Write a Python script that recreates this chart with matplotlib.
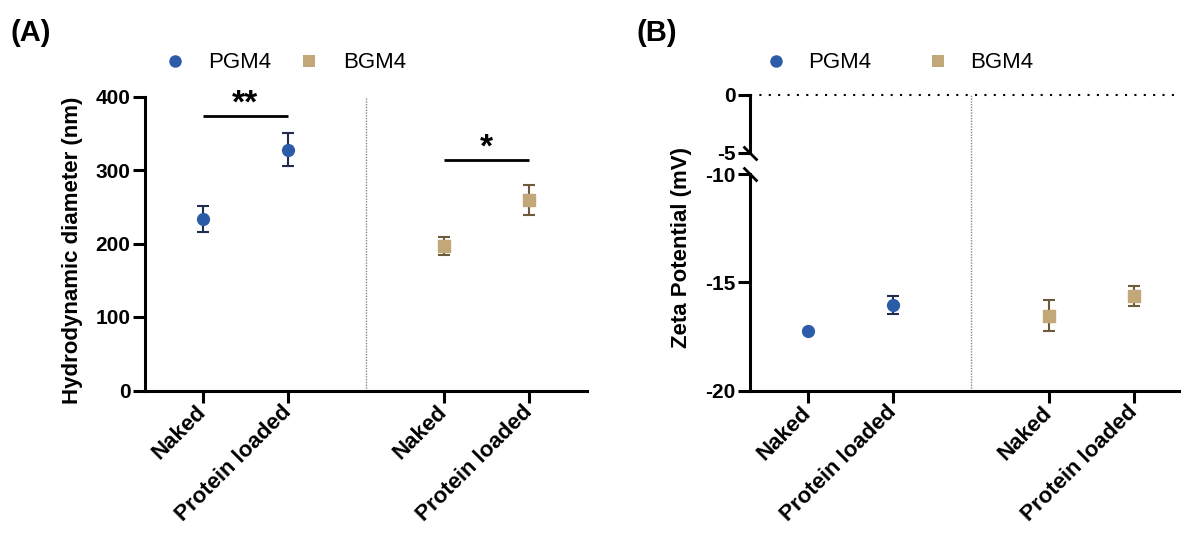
import matplotlib
matplotlib.use("Agg")
import matplotlib.pyplot as plt
from matplotlib.lines import Line2D

plt.rcParams["font.family"] = ["Liberation Sans", "DejaVu Sans"]
plt.rcParams["font.weight"] = "bold"
plt.rcParams["axes.labelweight"] = "bold"
plt.rcParams["axes.unicode_minus"] = False

# ---- datos ----
categorias = ["Naked", "Protein loaded"]
series = ["PGM4", "BGM4"]

pgm4_diam = [233, 327.5]
pgm4_diam_err = [17.5, 22.5]
bgm4_diam = [197, 259]
bgm4_diam_err = [12, 20]

pgm4_zeta = [-17.24, -16.06]
pgm4_zeta_err = [0.0, 0.41]   # la primera barra queda oculta bajo el marcador
bgm4_zeta = [-16.54, -15.63]
bgm4_zeta_err = [0.71, 0.45]

# barras de significancia (texto, altura) para el panel A
signif_diam = [("**", 374), ("*", 314)]

ticks_diam = [0, 100, 200, 300, 400]
ticks_zeta_alto = [-5, 0]
ticks_zeta_bajo = [-20, -15, -10]

# ---- estilo ----
AZUL = "#2C5BA8"
AZUL_ERR = "#1F2D4F"
BEIGE = "#C2A878"
BEIGE_ERR = "#6B5B3A"
W, H = 1181, 533
SEP = 1.835          # distancia entre grupos
XLIM = (-0.68, 4.52)
LW = 2.2

x_pgm4 = [0, 1]
x_bgm4 = [SEP + 1, SEP + 2]
x_todos = x_pgm4 + x_bgm4
x_div = (x_pgm4[-1] + x_bgm4[0]) / 2


def caja(x0, y_top, x1, y_bot):
    return [x0 / W, 1 - y_bot / H, (x1 - x0) / W, (y_bot - y_top) / H]


def estilo(ax):
    for s in ["top", "right"]:
        ax.spines[s].set_visible(False)
    for s in ["left", "bottom"]:
        ax.spines[s].set_linewidth(LW)
    ax.tick_params(width=LW, length=8.5, labelsize=15)
    ax.tick_params(axis="y", pad=2)
    ax.tick_params(axis="x", pad=5, labelsize=16)
    ax.set_xlim(*XLIM)


def etiquetas_x(ax):
    ax.set_xticks(x_todos)
    ax.set_xticklabels(categorias * 2, rotation=45, ha="right", va="center",
                       rotation_mode="anchor")


def puntos(ax, x, y, err, color, ecolor, marker, ms):
    ax.errorbar(x, y, yerr=err, fmt=marker, color=color, ms=ms, mec=color,
                ecolor=ecolor, elinewidth=1.5, capsize=4.6, capthick=1.5, zorder=3)


fig = plt.figure(figsize=(W / 100, H / 100), dpi=100)

# ---------------- Panel A ----------------
axA = fig.add_axes(caja(145, 96.5, 587, 390.5))
estilo(axA)
axA.set_ylim(0, 400)
axA.set_yticks(ticks_diam)
etiquetas_x(axA)
puntos(axA, x_pgm4, pgm4_diam, pgm4_diam_err, AZUL, AZUL_ERR, "o", 8.5)
puntos(axA, x_bgm4, bgm4_diam, bgm4_diam_err, BEIGE, BEIGE_ERR, "s", 8.5)
axA.axvline(x_div, color="#888888", lw=1, ls=(0, (1, 1)), zorder=1)

for (texto, y), xs in zip(signif_diam, [x_pgm4, x_bgm4]):
    axA.plot(xs, [y, y], color="k", lw=2, solid_capstyle="butt")
    axA.annotate(texto, xy=(sum(xs) / 2, y), xytext=(0, 2), textcoords="offset points",
                 ha="center", va="baseline", fontsize=24, fontweight="bold")

fig.text(73 / W, 1 - 250 / H, "Hydrodynamic diameter (nm)", rotation=90,
         ha="center", va="center", fontsize=16, fontweight="bold")
fig.text(11 / W, 1 - 33 / H, "(A)", ha="left", va="center", fontsize=21, fontweight="bold")

# ---------------- Panel B (eje y cortado) ----------------
axB_alto = fig.add_axes(caja(750, 95, 1192, 153))
axB = fig.add_axes(caja(750, 174, 1192, 390.7))
estilo(axB_alto)
estilo(axB)
axB_alto.spines["bottom"].set_visible(False)
axB_alto.set_xticks([])
axB_alto.set_ylim(-5, 0)
axB_alto.set_yticks(ticks_zeta_alto)
axB.set_ylim(-20, -10)
axB.set_yticks(ticks_zeta_bajo)
etiquetas_x(axB)

puntos(axB, x_pgm4, pgm4_zeta, pgm4_zeta_err, AZUL, AZUL_ERR, "o", 8.5)
puntos(axB, x_bgm4, bgm4_zeta, bgm4_zeta_err, BEIGE, BEIGE_ERR, "s", 8.5)

axB_alto.axhline(0, color="k", lw=1.5, ls=(0, (1, 3.5)), clip_on=False)

pos_b, pos_a = axB.get_position(), axB_alto.get_position()
ymax = (pos_a.y1 - pos_b.y0) / pos_b.height
axB.axvline(x_div, ymin=0, ymax=ymax, color="#888888", lw=1, ls=(0, (1, 1)),
            clip_on=False, zorder=1)

corte = dict(marker=[(-1, 1), (1, -1)], markersize=10, linestyle="none",
             color="k", mec="k", mew=2, clip_on=False)
axB_alto.plot([0], [0], transform=axB_alto.transAxes, **corte)
axB.plot([0], [1], transform=axB.transAxes, **corte)

fig.text(681 / W, 1 - 248 / H, "Zeta Potential (mV)", rotation=90,
         ha="center", va="center", fontsize=16, fontweight="bold")
fig.text(636 / W, 1 - 33 / H, "(B)", ha="left", va="center", fontsize=21, fontweight="bold")

# ---------------- leyendas ----------------
handles = [Line2D([], [], marker="o", ls="none", color=AZUL, ms=9, mew=0),
           Line2D([], [], marker="s", ls="none", color=BEIGE, ms=8, mew=0)]
for x_izq, colsep, pad in [(164, 1.2, 1.0), (765, 2.5, 0.95)]:
    fig.legend(handles, series, loc="center left", bbox_to_anchor=(x_izq / W, 1 - 63 / H),
               ncol=2, frameon=False, prop=dict(size=16, weight="normal"),
               handlelength=1, handletextpad=pad, columnspacing=colsep,
               borderpad=0, borderaxespad=0)

fig.savefig("out.png", dpi=100)
